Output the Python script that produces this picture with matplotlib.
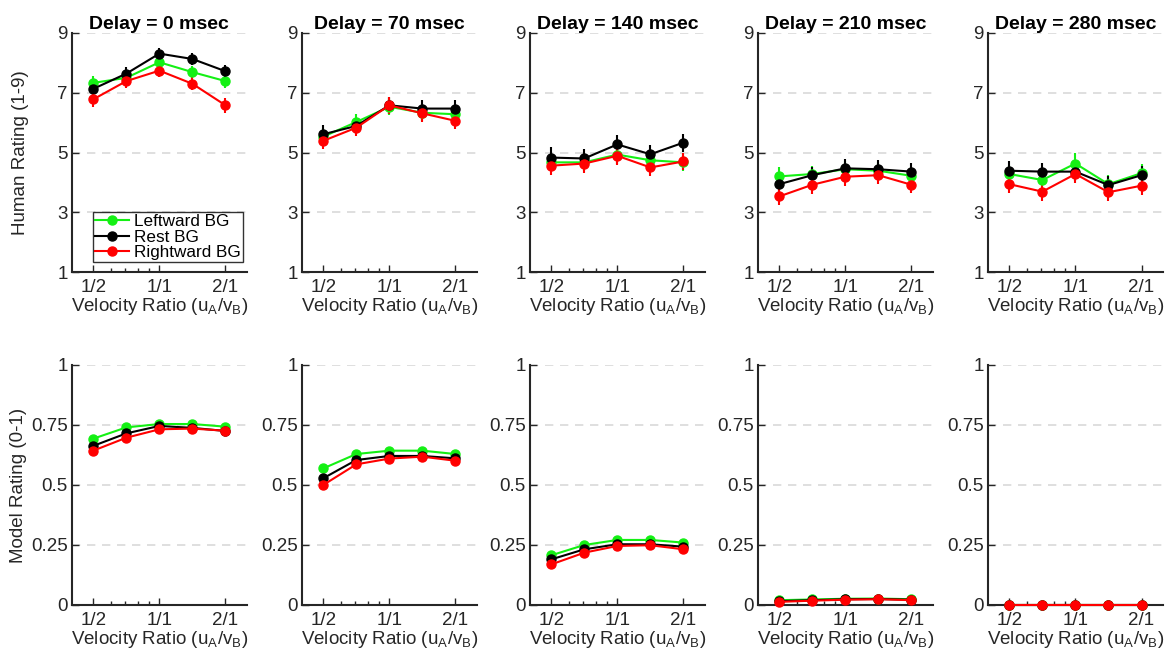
import numpy as np
import matplotlib
matplotlib.use("Agg")
import matplotlib.pyplot as plt
from matplotlib.ticker import FixedLocator, NullFormatter

plt.rcParams['font.family'] = ['Liberation Sans', 'DejaVu Sans']

# velocity ratios u_A / v_B
ratios = [0.5, 0.7071, 1.0, 1.4142, 2.0]
delays = [0, 70, 140, 210, 280]
series_names = ['Leftward BG', 'Rest BG', 'Rightward BG']
series_colors = ['#14f014', '#000000', '#ff0000']

# human ratings (1-9), one list per delay, per series
human_left = [
    [7.33, 7.50, 8.02, 7.69, 7.39],
    [5.53, 6.02, 6.53, 6.33, 6.28],
    [4.67, 4.67, 4.93, 4.74, 4.67],
    [4.20, 4.28, 4.44, 4.39, 4.22],
    [4.28, 4.08, 4.63, 3.94, 4.31],
]
human_rest = [
    [7.13, 7.64, 8.31, 8.13, 7.72],
    [5.61, 5.89, 6.58, 6.47, 6.47],
    [4.83, 4.80, 5.27, 4.94, 5.33],
    [3.94, 4.24, 4.47, 4.44, 4.36],
    [4.39, 4.36, 4.36, 3.91, 4.24],
]
human_right = [
    [6.78, 7.39, 7.74, 7.30, 6.58],
    [5.39, 5.83, 6.58, 6.31, 6.06],
    [4.56, 4.63, 4.89, 4.50, 4.70],
    [3.53, 3.92, 4.19, 4.24, 3.92],
    [3.94, 3.69, 4.28, 3.67, 3.89],
]
# standard errors of human ratings
human_err_left = [
    [0.22, 0.22, 0.22, 0.22, 0.22],
    [0.28, 0.28, 0.28, 0.28, 0.28],
    [0.28, 0.28, 0.30, 0.28, 0.28],
    [0.32, 0.28, 0.28, 0.28, 0.28],
    [0.30, 0.30, 0.35, 0.30, 0.30],
]
human_err_rest = [
    [0.22, 0.22, 0.20, 0.20, 0.22],
    [0.30, 0.28, 0.28, 0.28, 0.30],
    [0.35, 0.32, 0.32, 0.30, 0.30],
    [0.30, 0.28, 0.30, 0.30, 0.28],
    [0.32, 0.30, 0.30, 0.30, 0.30],
]
human_err_right = [
    [0.25, 0.22, 0.22, 0.22, 0.25],
    [0.28, 0.28, 0.28, 0.28, 0.28],
    [0.30, 0.30, 0.32, 0.28, 0.30],
    [0.30, 0.30, 0.30, 0.30, 0.28],
    [0.28, 0.30, 0.30, 0.28, 0.30],
]

# model ratings (0-1)
model_left = [
    [0.693, 0.740, 0.754, 0.754, 0.743],
    [0.569, 0.629, 0.643, 0.643, 0.629],
    [0.207, 0.250, 0.271, 0.271, 0.260],
    [0.020, 0.023, 0.026, 0.027, 0.024],
    [0.001, 0.001, 0.001, 0.001, 0.001],
]
model_rest = [
    [0.663, 0.715, 0.746, 0.738, 0.725],
    [0.528, 0.604, 0.621, 0.621, 0.611],
    [0.190, 0.232, 0.253, 0.253, 0.243],
    [0.016, 0.020, 0.024, 0.025, 0.022],
    [0.001, 0.001, 0.001, 0.001, 0.001],
]
model_right = [
    [0.643, 0.697, 0.732, 0.735, 0.726],
    [0.500, 0.586, 0.610, 0.618, 0.601],
    [0.169, 0.218, 0.246, 0.249, 0.232],
    [0.013, 0.018, 0.022, 0.024, 0.020],
    [0.001, 0.001, 0.001, 0.001, 0.001],
]

axcol = '#262626'
fig = plt.figure(figsize=(11.65, 6.52), dpi=100)

lefts = [0.0618, 0.2592, 0.4549, 0.6506, 0.8481]
width = 0.150
rows = [(0.5828, 0.3666), (0.0721, 0.3681)]


def style_axis(ax, yticks, ylabels):
    ax.set_xscale('log')
    ax.set_xlim(0.4, 2.5)
    ax.xaxis.set_major_locator(FixedLocator([0.5, 1.0, 2.0]))
    ax.set_xticklabels(['1/2', '1/1', '2/1'])
    ax.xaxis.set_minor_locator(FixedLocator([0.6, 0.7, 0.8, 0.9]))
    ax.xaxis.set_minor_formatter(NullFormatter())
    ax.set_yticks(yticks)
    ax.set_yticklabels(ylabels)
    ax.set_ylim(yticks[0], yticks[-1])
    for s in ['top', 'right']:
        ax.spines[s].set_visible(False)
    for s in ['left', 'bottom']:
        ax.spines[s].set_linewidth(1.5)
        ax.spines[s].set_color(axcol)
    ax.tick_params(which='both', direction='in', colors=axcol, labelsize=13.5, width=1.0)
    ax.tick_params(which='major', length=5)
    ax.tick_params(which='minor', length=3)
    ax.tick_params(axis='x', pad=5)
    ax.tick_params(axis='y', pad=3)
    for yt in yticks[1:]:
        ax.axhline(yt, color='#d9d9d9', linestyle=(0, (5, 4)), linewidth=1.2, zorder=0)
    ax.set_xlabel(r'Velocity Ratio (u$_\mathregular{A}$/v$_\mathregular{B}$)',
                  fontsize=13.5, color=axcol, labelpad=0)


human_all = [human_left, human_rest, human_right]
err_all = [human_err_left, human_err_rest, human_err_right]
model_all = [model_left, model_rest, model_right]

for i, d in enumerate(delays):
    # top row: human ratings
    ax = fig.add_axes([lefts[i], rows[0][0], width, rows[0][1]])
    style_axis(ax, [1, 3, 5, 7, 9], ['1', '3', '5', '7', '9'])
    handles = []
    for k in range(3):
        h = ax.errorbar(ratios, human_all[k][i], yerr=err_all[k][i], color=series_colors[k],
                        marker='o', markersize=6.5, linewidth=1.5, elinewidth=1.5, capsize=0,
                        label=series_names[k], clip_on=False, zorder=3)
        handles.append(h)
    ax.set_title('Delay = %d msec' % d, fontsize=14, fontweight='bold', pad=3)
    if i == 0:
        ax.set_ylabel('Human Rating (1-9)', fontsize=13.5, color=axcol)
        ax.yaxis.set_label_coords(-0.245, 0.5)
        leg = ax.legend(handles=[h.lines[0] for h in handles], labels=series_names,
                        loc='lower left', bbox_to_anchor=(0.12, 0.04), fontsize=12.3,
                        frameon=True, fancybox=False, borderpad=0.12, handlelength=2.0,
                        handletextpad=0.3, labelspacing=0.05, borderaxespad=0)
        leg.get_frame().set_edgecolor('#000000')
        leg.get_frame().set_linewidth(1.0)

    # bottom row: model ratings
    ax2 = fig.add_axes([lefts[i], rows[1][0], width, rows[1][1]])
    style_axis(ax2, [0, 0.25, 0.5, 0.75, 1], ['0', '0.25', '0.5', '0.75', '1'])
    for k in range(3):
        ax2.plot(ratios, model_all[k][i], color=series_colors[k], marker='o',
                 markersize=6.5, linewidth=1.5, clip_on=False, zorder=3)
    if i == 0:
        ax2.set_ylabel('Model Rating (0-1)', fontsize=13.5, color=axcol)
        ax2.yaxis.set_label_coords(-0.26, 0.5)

fig.savefig('out.png', dpi=100)
